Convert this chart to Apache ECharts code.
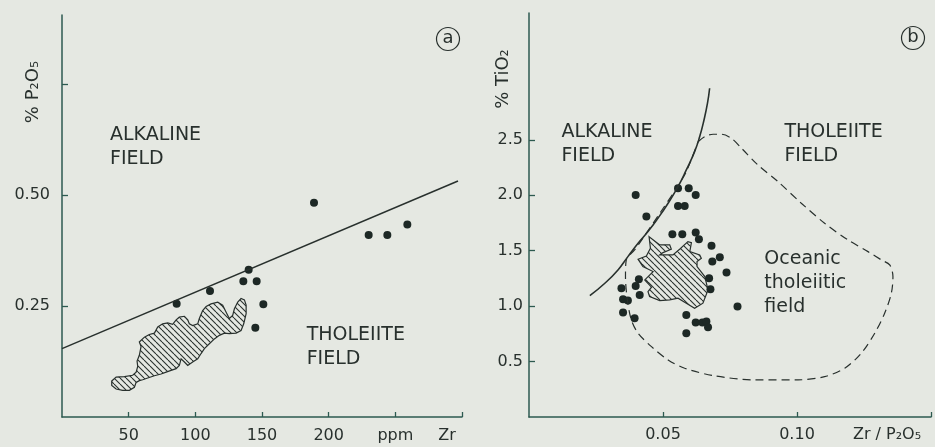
<!DOCTYPE html>
<html><head><meta charset="utf-8">
<script src="https://cdn.jsdelivr.net/npm/echarts@6/dist/echarts.min.js"></script>
<style>html,body{margin:0;padding:0;background:#e5e8e2}#c{width:935px;height:447px}</style>
</head><body><div id="c"></div>
<script>
// ---------- DATA ----------
// Panel a: P2O5 (%) vs Zr (ppm)
const xTicksA = [50, 100, 150, 200, 250, 300];
const xLabelsA = ['50', '100', '150', '200', 'ppm', 'Zr'];
const yTicksA = [0.25, 0.5, 0.75];
const yLabelsA = [0.25, 0.5];
const lineA = [[0, 0.154], [297, 0.532]];
const pointsA = [[86, 0.255], [111, 0.284], [136, 0.306], [140, 0.332], [146, 0.306], [151, 0.254],
  [145, 0.201], [189, 0.483], [230, 0.410], [244, 0.410], [259, 0.434]];
const blobA = [[37.3,0.081],[40.6,0.090],[46.8,0.091],[53,0.094],[55.6,0.101],[56.8,0.114],[56.3,0.126],
  [58,0.139],[59.3,0.159],[58,0.169],[61.8,0.180],[65.5,0.186],[69.3,0.189],[71.8,0.203],[75.5,0.210],
  [79.3,0.212],[83,0.209],[85.6,0.219],[88,0.225],[91.8,0.227],[94.3,0.219],[95.5,0.210],[98,0.206],
  [101.8,0.210],[103,0.222],[105.5,0.240],[108.1,0.249],[111.8,0.255],[116.8,0.259],[120.5,0.252],
  [123.1,0.236],[125.5,0.222],[128,0.229],[129.3,0.244],[131.8,0.259],[134.3,0.267],[136.8,0.264],
  [138.1,0.252],[138.1,0.233],[136.3,0.210],[134.3,0.195],[130.6,0.189],[125.5,0.188],[121.8,0.189],
  [118,0.184],[114.3,0.176],[110.5,0.165],[106.8,0.154],[104.3,0.143],[101.8,0.131],[98,0.124],
  [94.3,0.116],[91.8,0.124],[89.3,0.131],[88,0.116],[85.6,0.109],[81.8,0.105],[78.1,0.101],[74.3,0.097],
  [69.3,0.093],[64.3,0.088],[60.5,0.084],[58,0.082],[55.6,0.078],[54.3,0.067],[50.5,0.060],[45.5,0.060],
  [40.6,0.063],[37.3,0.071]];
const textA = [[36, 0.663, 'ALKALINE\nFIELD'], [183.5, 0.211, 'THOLEIITE\nFIELD']];

// Panel b: TiO2 (%) vs Zr/P2O5
const xTicksB = [0.05, 0.10, 0.15];
const xLabelsB = ['0.05', '0.10', 'Zr / P₂O₅'];
const yTicksB = [0.5, 1.0, 1.5, 2.0, 2.5];
const pointsB = [[0.0398,2.004],[0.0556,2.064],[0.0596,2.064],[0.0622,2.004],[0.0556,1.904],[0.0581,1.904],
  [0.0438,1.808],[0.0535,1.649],[0.0572,1.649],[0.0622,1.664],[0.0634,1.604],[0.0681,1.544],[0.0712,1.442],
  [0.0684,1.402],[0.0737,1.303],[0.0672,1.252],[0.0677,1.153],[0.0778,0.996],[0.0410,1.243],[0.0398,1.183],
  [0.0345,1.162],[0.0413,1.101],[0.0351,1.063],[0.0369,1.050],[0.0351,0.942],[0.0394,0.891],[0.0587,0.921],
  [0.0622,0.852],[0.0647,0.852],[0.0662,0.861],[0.0668,0.810],[0.0587,0.756]];
const curveB = [[0.0227,1.095],[0.0283,1.207],[0.0332,1.327],[0.0369,1.447],[0.0407,1.568],[0.0444,1.673],
  [0.0481,1.793],[0.0519,1.929],[0.0556,2.078],[0.0587,2.229],[0.0618,2.394],[0.0637,2.530],[0.0653,2.680],
  [0.0666,2.831],[0.0674,2.966]];
const oceanicB = [[0.0631,2.484],[0.0656,2.530],[0.0687,2.551],[0.0718,2.551],[0.0755,2.515],[0.0793,2.425],
  [0.0854,2.274],[0.0929,2.124],[0.1016,1.929],[0.1103,1.748],[0.1190,1.598],[0.1265,1.492],[0.1315,1.417],
  [0.1346,1.372],[0.1358,1.267],[0.1352,1.117],[0.1327,0.936],[0.1290,0.756],[0.1240,0.576],[0.1178,0.440],
  [0.1103,0.364],[0.1004,0.335],[0.0842,0.335],[0.0693,0.371],[0.0581,0.440],[0.0519,0.515],[0.0457,0.635],
  [0.0407,0.756],[0.0382,0.876],[0.0367,1.056],[0.0360,1.267],[0.0363,1.417],[0.0394,1.507],[0.0425,1.613],
  [0.0488,1.838],[0.0550,2.064],[0.0587,2.214],[0.0631,2.484]];
const blobB = [[0.0448,1.627],[0.0488,1.553],[0.0525,1.553],[0.0531,1.514],[0.0500,1.483],[0.0488,1.462],
  [0.0537,1.462],[0.0562,1.514],[0.0593,1.582],[0.0606,1.573],[0.0600,1.492],[0.0637,1.462],[0.0643,1.432],
  [0.0627,1.402],[0.0627,1.357],[0.0656,1.267],[0.0668,1.147],[0.0649,1.027],[0.0618,0.981],[0.0587,1.027],
  [0.0556,1.072],[0.0525,1.056],[0.0488,1.050],[0.0450,1.086],[0.0444,1.131],[0.0457,1.171],[0.0432,1.237],
  [0.0463,1.312],[0.0425,1.357],[0.0407,1.424],[0.0438,1.453],[0.0453,1.523]];
const textB = [[0.0121, 2.675, 'ALKALINE\nFIELD'], [0.0953, 2.675, 'THOLEIITE\nFIELD'],
  [0.0878, 1.529, 'Oceanic\ntholeiitic\nfield']];

// ---------- STYLE ----------
const BG = '#e5e8e2', INK = '#28302d', AXIS = '#2d5a50', DOT = '#1d2825';
const FONT = '"DejaVu Sans", sans-serif';

const hatch = (function () {
  const s = 6, cv = document.createElement('canvas');
  cv.width = s; cv.height = s;
  const ctx = cv.getContext('2d');
  ctx.strokeStyle = INK; ctx.lineWidth = 1.1;
  for (const k of [-s, 0, s]) { ctx.beginPath(); ctx.moveTo(k, 0); ctx.lineTo(k + s, s); ctx.stroke(); }
  return { image: cv, repeat: 'repeat' };
})();

function pick(ticks, labels) {
  return function (v) {
    const i = ticks.findIndex(t => Math.abs(t - v) < 1e-9);
    return i < 0 ? '' : labels[i];
  };
}

function polyRender(pts) {
  return function (params, api) {
    if (params.dataIndex !== 0) return null;
    return { type: 'polygon', shape: { points: pts.map(p => api.coord(p)) },
      style: { fill: hatch, stroke: INK, lineWidth: 1.2 } };
  };
}
function textRender(arr, lh) {
  return function (params, api) {
    const d = arr[params.dataIndex];
    const c = api.coord([d[0], d[1]]);
    return { type: 'text', x: c[0], y: c[1],
      style: { text: d[2], fill: INK, font: '19px ' + FONT, align: 'left', verticalAlign: 'top', lineHeight: lh } };
  };
}

function axisBase(extra) {
  return Object.assign({
    type: 'value', splitLine: { show: false },
    axisLine: { show: true, onZero: false, lineStyle: { color: AXIS, width: 1.5 } },
  }, extra);
}

const chart = echarts.init(document.getElementById('c'), null, { renderer: 'canvas' });
chart.setOption({
  backgroundColor: BG,
  animation: false,
  grid: [
    { left: 62, top: 15, width: 400, height: 402, containLabel: false, outerBoundsMode: 'none' },
    { left: 529, top: 13, width: 402, height: 404, containLabel: false, outerBoundsMode: 'none' }
  ],
  xAxis: [
    axisBase({ gridIndex: 0, min: 0, max: 300,
      axisTick: { inside: true, length: 5, customValues: xTicksA, lineStyle: { color: AXIS, width: 1.3 } },
      axisLabel: { customValues: xTicksA, margin: 11, color: INK, fontSize: 16, fontFamily: FONT, hideOverlap: false,
        formatter: function (v) { const s = pick(xTicksA, xLabelsA)(v); return s === 'Zr' ? '{sh|Zr}' : s; },
        rich: { sh: { fontSize: 16, fontFamily: FONT, color: INK, padding: [0, 30, 0, 0] } } } }),
    axisBase({ gridIndex: 1, min: 0, max: 0.15,
      axisTick: { inside: true, length: 5, customValues: xTicksB, lineStyle: { color: AXIS, width: 1.3 } },
      axisLabel: { customValues: xTicksB, margin: 10, color: INK, fontSize: 16, fontFamily: FONT, hideOverlap: false,
        formatter: function (v) { const s = pick(xTicksB, xLabelsB)(v); return s.indexOf('Zr') === 0 ? '{sh|' + s + '}' : s; },
        rich: { sh: { fontSize: 16, fontFamily: FONT, color: INK, padding: [0, 88, 0, 0] } } } })
  ],
  yAxis: [
    axisBase({ gridIndex: 0, min: 0, max: 0.906,
      axisTick: { inside: true, length: 6, customValues: yTicksA, lineStyle: { color: AXIS, width: 1.3 } },
      axisLabel: { customValues: yLabelsA, margin: 12, color: INK, fontSize: 16, fontFamily: FONT,
        formatter: v => v.toFixed(2) } }),
    axisBase({ gridIndex: 1, min: 0, max: 3.645,
      axisTick: { inside: true, length: 6, customValues: yTicksB, lineStyle: { color: AXIS, width: 1.3 } },
      axisLabel: { customValues: yTicksB, margin: 6, color: INK, fontSize: 16, fontFamily: FONT,
        formatter: v => v.toFixed(1) } })
  ],
  series: [
    { type: 'line', xAxisIndex: 0, yAxisIndex: 0, data: lineA, symbol: 'none', silent: true,
      lineStyle: { color: INK, width: 1.5 } },
    { type: 'custom', xAxisIndex: 0, yAxisIndex: 0, data: [blobA[0]], renderItem: polyRender(blobA), silent: true },
    { type: 'scatter', xAxisIndex: 0, yAxisIndex: 0, data: pointsA, symbolSize: 10.5, silent: true,
      itemStyle: { color: DOT, borderColor: BG, borderWidth: 2.5, opacity: 1 } },
    { type: 'custom', xAxisIndex: 0, yAxisIndex: 0, data: textA.map(d => [d[0], d[1]]), renderItem: textRender(textA, 24), silent: true },

    { type: 'line', xAxisIndex: 1, yAxisIndex: 1, data: oceanicB, symbol: 'none', smooth: 0.3, silent: true,
      lineStyle: { color: INK, width: 1.2, type: [8, 5] } },
    { type: 'line', xAxisIndex: 1, yAxisIndex: 1, data: curveB, symbol: 'none', smooth: true, silent: true,
      lineStyle: { color: INK, width: 1.6 } },
    { type: 'custom', xAxisIndex: 1, yAxisIndex: 1, data: [blobB[0]], renderItem: polyRender(blobB), silent: true },
    { type: 'scatter', xAxisIndex: 1, yAxisIndex: 1, data: pointsB, symbolSize: 8, silent: true,
      itemStyle: { color: DOT, opacity: 1 } },
    { type: 'custom', xAxisIndex: 1, yAxisIndex: 1, data: textB.map(d => [d[0], d[1]]), renderItem: textRender(textB, 24), silent: true }
  ],
  graphic: [
    { type: 'text', x: 33, y: 92, rotation: Math.PI / 2,
      style: { text: '% P₂O₅', font: '18px ' + FONT, fill: INK, align: 'center', verticalAlign: 'middle' } },
    { type: 'text', x: 503, y: 79, rotation: Math.PI / 2,
      style: { text: '% TiO₂', font: '18px ' + FONT, fill: INK, align: 'center', verticalAlign: 'middle' } },
    { type: 'circle', shape: { cx: 448, cy: 39, r: 11.5 }, style: { fill: 'none', stroke: INK, lineWidth: 1.2 } },
    { type: 'text', x: 448, y: 38, style: { text: 'a', font: '18px ' + FONT, fill: INK, align: 'center', verticalAlign: 'middle' } },
    { type: 'circle', shape: { cx: 913, cy: 38, r: 11.5 }, style: { fill: 'none', stroke: INK, lineWidth: 1.2 } },
    { type: 'text', x: 913, y: 37, style: { text: 'b', font: '18px ' + FONT, fill: INK, align: 'center', verticalAlign: 'middle' } }
  ]
});
</script>
</body></html>
